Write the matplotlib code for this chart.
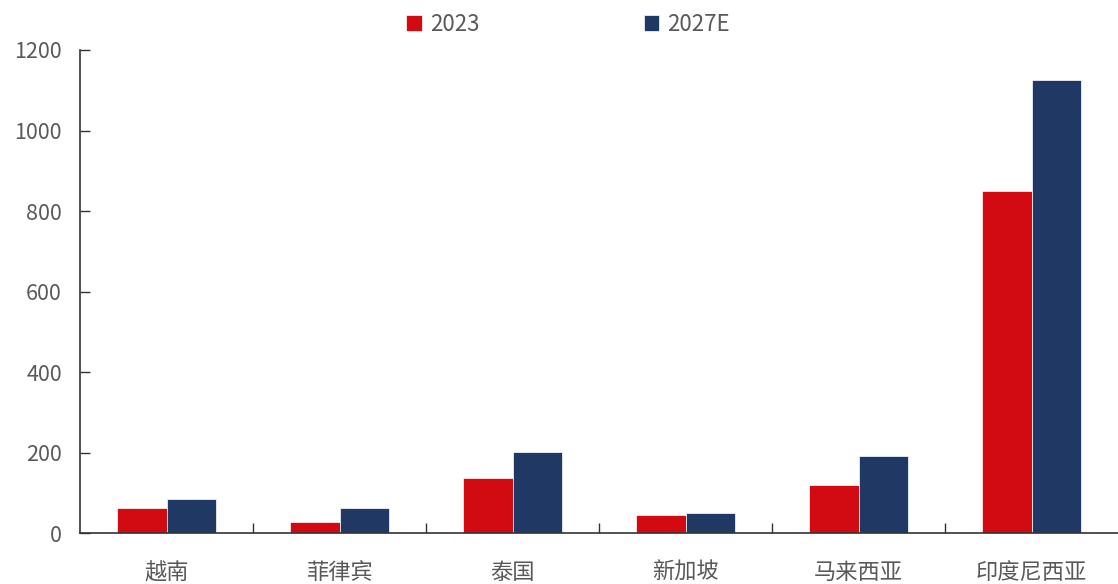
import numpy as np
import matplotlib.pyplot as plt

plt.rcParams['font.family'] = ['Noto Sans CJK SC', 'DejaVu Sans']

# data
countries = ['越南', '菲律宾', '泰国', '新加坡', '马来西亚', '印度尼西亚']
values_2023 = [62, 28, 137, 45, 119, 851]
values_2027e = [84, 63, 202, 51, 192, 1125]
series_names = ['2023', '2027E']

red = '#D20A11'
navy = '#1F3864'
grey = '#595959'

fig = plt.figure(figsize=(11.18, 5.84), dpi=100)
ax = fig.add_axes([0.0716, 0.0868, 0.9284, 0.8276])

x = np.arange(len(countries))
w = 0.285
ax.bar(x - w / 2, values_2023, width=w, color=red, edgecolor='white',
       linewidth=0.5, label=series_names[0])
ax.bar(x + w / 2, values_2027e, width=w, color=navy, edgecolor='white',
       linewidth=0.5, label=series_names[1])

ax.set_xlim(-0.5, len(countries) - 0.5)
ax.set_ylim(0, 1200)
ax.set_yticks(range(0, 1201, 200))

# category labels between boundary ticks
ax.set_xticks(x)
ax.set_xticklabels(countries)
ax.set_xticks(np.arange(0.5, len(countries) - 0.5, 1), minor=True)
ax.tick_params(axis='x', which='major', length=0, pad=20, labelsize=16,
               labelcolor=grey)
ax.tick_params(axis='x', which='minor', direction='in', length=7,
               width=1, color='#333333')
ax.tick_params(axis='y', direction='in', length=7, width=1, color='#333333',
               labelsize=15.5, labelcolor=grey, pad=13)

for side in ['top', 'right']:
    ax.spines[side].set_visible(False)
for side in ['left', 'bottom']:
    ax.spines[side].set_color('#333333')
    ax.spines[side].set_linewidth(1.2)

leg = fig.legend(loc='upper center', bbox_to_anchor=(0.508, 1.012), ncol=2,
                 frameon=False, fontsize=16, handlelength=0.7,
                 handleheight=0.7, handletextpad=0.35, columnspacing=7.4)
for t in leg.get_texts():
    t.set_color(grey)

fig.savefig('out.png', dpi=100)
